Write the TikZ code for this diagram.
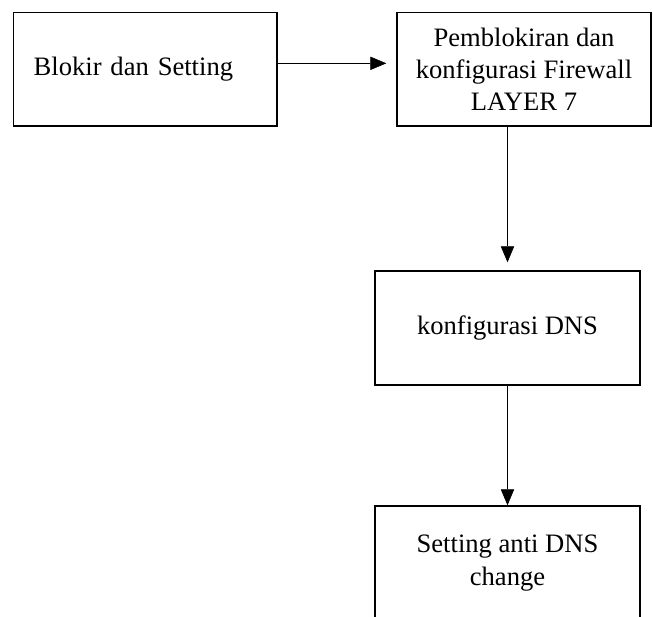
\documentclass[tikz,border=0pt]{standalone}
\usepackage{fontspec}
\setmainfont{Liberation Serif}
\usetikzlibrary{arrows.meta}

\begin{document}
\begin{tikzpicture}[kotak/.style = {draw, line width = 1.2pt, minimum height = 3.41cm, align = center, font = \fontsize{22.7}{27.5}\selectfont}, panah/.style = {-{Triangle[length = 0.48cm, width = 0.4cm]}, line width = 0.5pt}]
	\useasboundingbox (0, 0) rectangle (19.59, 18.51);
	\node[kotak, minimum width = 7.9cm, text width = 6.7cm, inner xsep = 0.6cm, align = left] (blokir) at (4.36, 16.43) {Blokir dan Setting};
	\node[kotak, minimum width = 7.62cm] (firewall) at (15.72, 16.43) {Pemblokiran dan\\ konfigurasi Firewall\\ LAYER 7};
	\node[kotak, minimum width = 7.95cm, minimum height = 3.42cm] (dns) at (15.225, 8.67) {konfigurasi DNS};
	\node[kotak, minimum width = 7.95cm, minimum height = 3.42cm] (anti) at (15.225, 1.62) {Setting anti DNS\\ change};
	\draw[panah] ([yshift = 0.18cm] blokir.east) -- ([xshift = -0.3cm, yshift = 0.18cm] firewall.west);
	\draw[panah] (firewall.south -| dns.north) -- ([yshift = 0.24cm] dns.north);
	\draw[panah] (dns.south) -- (anti.north);
\end{tikzpicture}
\end{document}
